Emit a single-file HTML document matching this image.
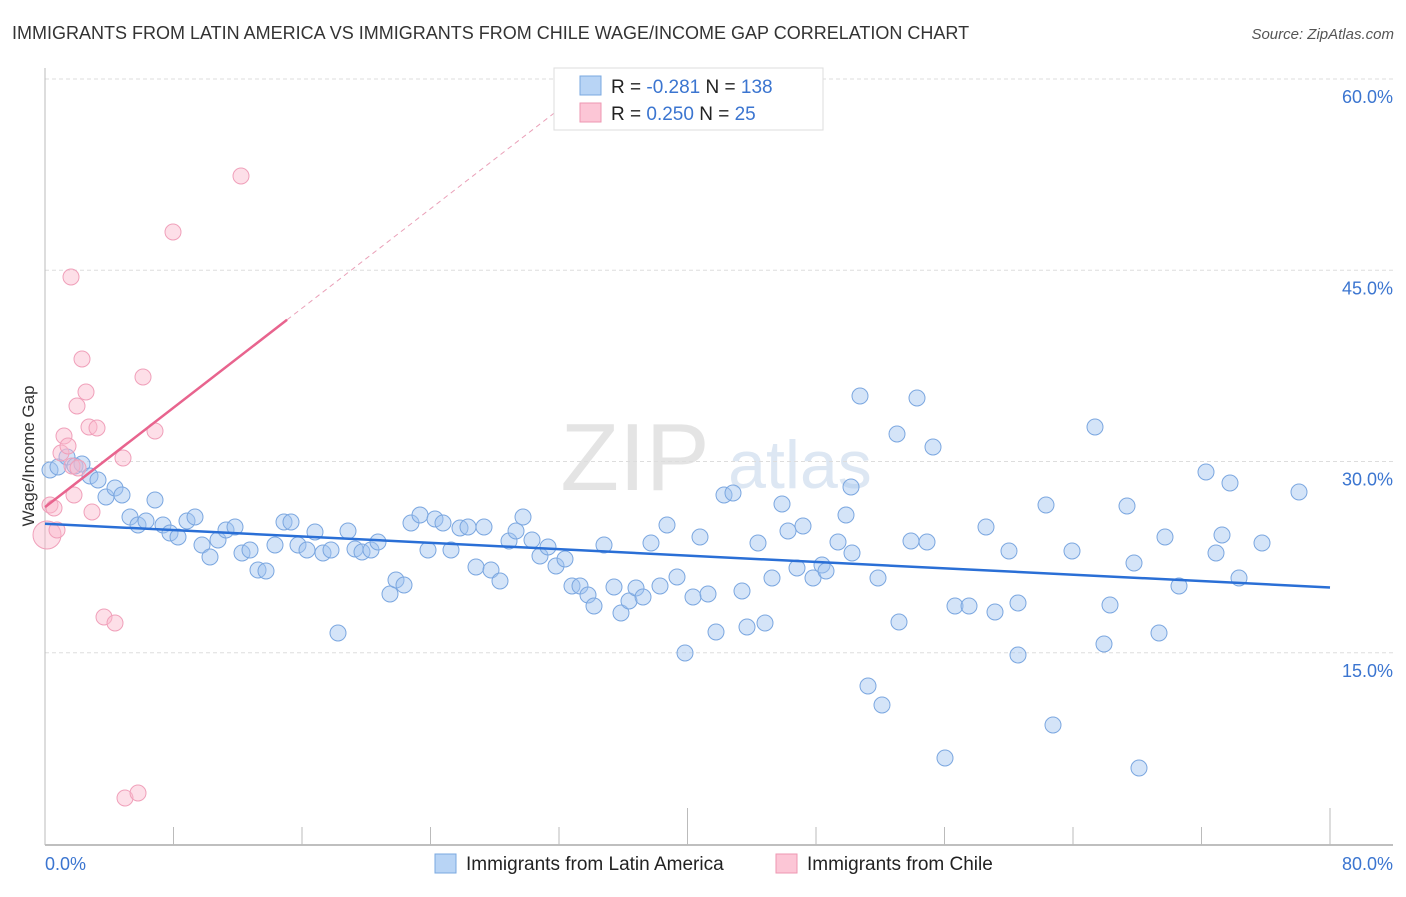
<!DOCTYPE html>
<html><head><meta charset="utf-8"><style>
body{margin:0;background:#fff;font-family:"Liberation Sans",sans-serif}
svg text{font-family:"Liberation Sans",sans-serif}
</style></head><body>
<svg id="c" width="1406" height="892">
<text x="12" y="39" font-size="18" fill="#333">IMMIGRANTS FROM LATIN AMERICA VS IMMIGRANTS FROM CHILE WAGE/INCOME GAP CORRELATION CHART</text>
<text x="1394" y="39" font-size="15" fill="#555" text-anchor="end" font-style="italic">Source: ZipAtlas.com</text>
<text x="635" y="490" font-size="96" fill="#e4e4e4" font-family="Liberation Serif" text-anchor="middle">ZIP</text>
<text x="800" y="488" font-size="68" fill="#dde7f3" text-anchor="middle">atlas</text>
<text transform="translate(34,456) rotate(-90)" font-size="17" fill="#333" text-anchor="middle">Wage/Income Gap</text>
<g id="grid"></g><g id="pts"></g><g id="lines"></g>
<g>
<rect x="554" y="68" width="269" height="62" fill="#fff" stroke="#ddd"/>
<rect x="580" y="76" width="21" height="19" fill="#b8d4f5" stroke="#7aa8e0"/>
<rect x="580" y="103" width="21" height="19" fill="#fcc6d6" stroke="#ee97b2"/>
<text x="611" y="93" font-size="19" fill="#222">R = <tspan fill="#3b75d0">-0.281</tspan>   N = <tspan fill="#3b75d0">138</tspan></text>
<text x="611" y="120" font-size="19" fill="#222">R =  <tspan fill="#3b75d0">0.250</tspan>   N =   <tspan fill="#3b75d0">25</tspan></text>
</g>
<g>
<rect x="435" y="854" width="21" height="19" fill="#b8d4f5" stroke="#7aa8e0"/>
<text x="466" y="870" font-size="19" fill="#222">Immigrants from Latin America</text>
<rect x="776" y="854" width="21" height="19" fill="#fcc6d6" stroke="#ee97b2"/>
<text x="807" y="870" font-size="19" fill="#222">Immigrants from Chile</text>
</g>
</svg>
<script>
const yTicks=[15,30,45,60];
const xTickLabels=["0.0%","80.0%"];
const blueX=[50,58,67,75,82,90,98,106,115,122,130,138,146,155,163,170,178,187,195,202,210,218,226,235,242,250,258,266,275,284,291,298,307,315,323,331,338,348,355,362,371,378,390,396,404,411,420,428,435,443,451,460,468,476,484,491,500,509,516,523,532,540,548,556,565,572,580,588,594,604,614,621,629,636,643,651,660,667,677,685,693,700,708,716,724,733,742,747,758,765,772,782,788,797,803,813,822,826,838,846,851,852,860,868,878,882,897,899,911,917,927,933,945,955,969,986,995,1009,1018,1018,1046,1053,1072,1095,1104,1110,1127,1134,1139,1159,1165,1179,1206,1216,1222,1230,1239,1262,1299];
const blueY=[470,467,457,466,464,476,480,497,488,495,517,525,521,500,525,533,537,521,517,545,557,540,530,527,553,550,570,571,545,522,522,545,550,532,553,550,633,531,549,552,550,542,594,580,585,523,515,550,519,523,550,528,527,567,527,570,581,541,531,517,540,556,547,566,559,586,586,595,606,545,587,613,601,588,597,543,586,525,577,653,597,537,594,632,495,493,591,627,543,623,578,504,531,568,526,578,565,571,542,515,487,553,396,686,578,705,434,622,541,398,542,447,758,606,606,527,612,551,603,655,505,725,551,427,644,605,506,563,768,633,537,586,472,553,535,483,578,543,492];
const pinkX=[47,50,54,57,61,64,68,72,74,71,77,82,86,89,92,97,104,115,123,125,138,143,155,173,241,78];
const pinkY=[535,505,508,530,453,436,446,466,495,277,406,359,392,427,512,428,617,623,458,798,793,377,431,232,176,468];
// convert pixel reads to data values (x %, y %)
const toX=p=>(p-45)/1285*80, toY=p=>(845-p)/12.75;
const blueXV=blueX.map(toX), blueYV=blueY.map(toY), pinkXV=pinkX.map(toX), pinkYV=pinkY.map(toY);
const blueLine=[25.2,20.2]; const pinkLine=[26.5,0.975];
const sx=v=>45+v/80*1285, sy=v=>845-v*12.75;
const NS="http://www.w3.org/2000/svg";
function mk(t,a,p){const e=document.createElementNS(NS,t);for(const k in a)e.setAttribute(k,a[k]);p.appendChild(e);return e;}
const g=document.getElementById('grid');
yTicks.forEach(v=>{const l=mk('line',{x1:45,x2:1393,y1:sy(v)-1,y2:sy(v)-1,stroke:'#ddd','stroke-dasharray':'4,3'},g);


const t=mk('text',{x:1393,y:sy(v)+23,'font-size':18,fill:'#3b75d0','text-anchor':'end'},g);t.textContent=v.toFixed(1)+'%';

});
const ax=mk('line',{x1:45,x2:45,y1:68,y2:845,stroke:'#bbb'},g);


const bx=mk('line',{x1:45,x2:1393,y1:845,y2:845,stroke:'#aaa','stroke-width':1.5},g);


for(let i=0;i<=10;i++){const v=i*8;const tl=mk('line',{x1:sx(v),x2:sx(v),y1:(i==5||i==10)?808:827,y2:845,stroke:'#bbb'},g);

}
[[0,0,'start'],[80,1,'end']].forEach(([v,i,a])=>{const t=mk('text',{x:i?1393:45,y:870,'font-size':18,fill:'#3b75d0','text-anchor':a},g);t.textContent=xTickLabels[i];

});
const P=document.getElementById('pts');
blueXV.forEach((x,i)=>{const c=mk('circle',{cx:sx(x),cy:sy(blueYV[i]),r:8,fill:'rgba(160,195,240,0.45)',stroke:'#7ba7e0','stroke-width':1},P);

});
pinkXV.forEach((x,i)=>{const c=mk('circle',{cx:sx(x),cy:sy(pinkYV[i]),r:i==0?14:8,fill:'rgba(250,185,205,0.45)',stroke:'#f0a0ba','stroke-width':1},P);

});
const L=document.getElementById('lines');
const bl=mk('line',{x1:sx(0),y1:sy(blueLine[0]),x2:sx(80),y2:sy(blueLine[1]),stroke:'#2a6fd6','stroke-width':2.5},L);


const pe=15.07, pend=(60.6-pinkLine[0])/pinkLine[1];
const pl=mk('line',{x1:sx(0),y1:sy(pinkLine[0]),x2:sx(pe),y2:sy(pinkLine[0]+pinkLine[1]*pe),stroke:'#e8648e','stroke-width':2.5},L);


const pd=mk('line',{x1:sx(pe),y1:sy(pinkLine[0]+pinkLine[1]*pe),x2:sx(pend),y2:sy(pinkLine[0]+pinkLine[1]*pend),stroke:'#eaa0b8','stroke-width':1,'stroke-dasharray':'5,4'},L);


</script>
</body></html>
